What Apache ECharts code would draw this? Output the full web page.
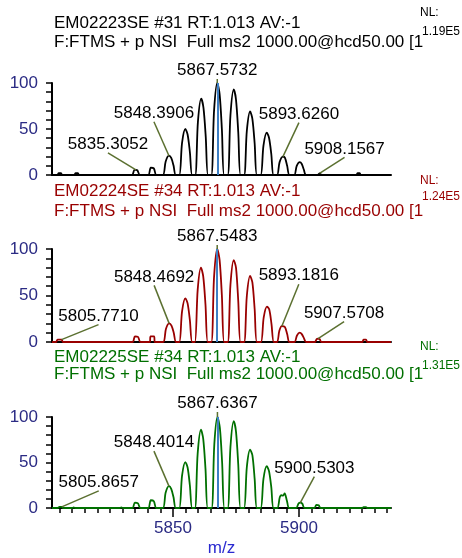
<!DOCTYPE html>
<html>
<head>
<meta charset="utf-8">
<script src="https://cdn.jsdelivr.net/npm/echarts@6/dist/echarts.min.js"></script>
<style>
html, body { margin: 0; padding: 0; background: #fff; }
#main { width: 462px; height: 558px; }
</style>
</head>
<body>
<div id="main"></div>
<script>
// scan header texts
var scanTitles = ['EM02223SE #31 RT:1.013 AV:-1', 'EM02224SE #34 RT:1.013 AV:-1', 'EM02225SE #34 RT:1.013 AV:-1'];
var filterLine = 'F:FTMS + p NSI  Full ms2 1000.00@hcd50.00 [1';
var nlValues = ['1.19E5', '1.24E5', '1.31E5'];

// axis ticks
var yTickLabels = [0, 50, 100];
var xTickLabels = [5850, 5900];
var xMinorTicks = [5805, 5810, 5815, 5820, 5825, 5830, 5835, 5840, 5845, 5850, 5855, 5860, 5865, 5870,
    5875, 5880, 5885, 5890, 5895, 5900, 5905, 5910, 5915, 5920, 5925, 5930, 5935];

// profile spectra [m/z, relative abundance]
var profile1 = [
    [5802, 0],
    [5804.2, 0], [5804.6, 2], [5805.6, 2], [5806.0, 0],
    [5810.9, 0], [5811.3, 2], [5812.3, 2], [5812.7, 0],
    [5833.7, 0], [5834.7, 5.5], [5835.3, 5.5], [5835.9, 5], [5836.9, 0],
    [5840.2, 0], [5841.2, 8], [5842.4, 7.2], [5843.4, 0],
    [5846.0, 0], [5847.1, 14.7], [5848.4, 21], [5849.3, 18.5], [5850.2, 10.5], [5851.1, 0],
    [5852.5, 0], [5853.6, 35], [5854.9, 50], [5855.8, 44], [5856.7, 25], [5857.6, 0],
    [5858.8, 0], [5859.9, 58], [5861.2, 83], [5862.1, 73], [5863.0, 41.5], [5863.9, 0],
    [5865.2, 0], [5866.3, 70], [5867.57, 100], [5868.5, 88], [5869.4, 50], [5870.3, 0],
    [5871.7, 0], [5872.8, 65], [5874.1, 93], [5875.0, 82], [5875.9, 46.5], [5876.8, 0],
    [5878.2, 0], [5879.3, 48], [5880.6, 69], [5881.5, 61], [5882.4, 34.5], [5883.3, 0],
    [5884.8, 0], [5885.9, 32], [5887.2, 46], [5888.1, 40.5], [5889.0, 23], [5889.9, 0],
    [5891.3, 0], [5892.3, 14], [5893.6, 20], [5894.4, 19], [5895.3, 10], [5896.2, 0],
    [5898.1, 0], [5899.1, 10], [5900.3, 14], [5901.1, 12], [5901.9, 6], [5902.8, 0],
    [5907.4, 0], [5908.2, 1.8], [5909.0, 0],
    [5922.8, 0], [5923.2, 2], [5924.1, 2], [5924.5, 0],
    [5936.5, 0]
];
var profile2 = [
    [5802, 0],
    [5803.6, 0], [5804.2, 2.5], [5805.8, 2.5], [5806.4, 0],
    [5833.9, 0], [5834.9, 6], [5836.1, 5.5], [5837.1, 0],
    [5840.8, 0], [5841.1, 6], [5842.5, 6], [5842.8, 0],
    [5846.1, 0], [5847.2, 14], [5848.47, 20], [5849.4, 17.6], [5850.3, 10], [5851.2, 0],
    [5852.5, 0], [5853.6, 33], [5854.9, 47], [5855.8, 41.5], [5856.7, 23.5], [5857.6, 0],
    [5858.7, 0], [5859.8, 56], [5861.1, 80], [5862.0, 70.5], [5862.9, 40], [5863.8, 0],
    [5865.2, 0], [5866.3, 70], [5867.55, 100], [5868.5, 88], [5869.4, 50], [5870.3, 0],
    [5871.7, 0], [5872.8, 61.5], [5874.1, 88], [5875.0, 80], [5875.9, 44], [5876.8, 0],
    [5878.2, 0], [5879.3, 49.5], [5880.6, 71], [5881.5, 64], [5882.4, 35.5], [5883.3, 0],
    [5884.9, 0], [5886.0, 26.5], [5887.3, 38], [5888.2, 35], [5889.1, 19], [5890.0, 0],
    [5891.3, 0], [5892.2, 12], [5893.18, 17], [5894.4, 16], [5895.3, 8.5], [5896.2, 0],
    [5898.2, 0], [5899.2, 7], [5900.3, 10], [5901.1, 8.5], [5901.9, 4.5], [5902.8, 0],
    [5906.3, 0], [5907.0, 3.2], [5907.57, 3.5], [5908.2, 3], [5908.9, 0],
    [5925.1, 0], [5925.6, 2.5], [5926.6, 2.5], [5927.1, 0],
    [5936.5, 0]
];
var profile3 = [
    [5802, 0],
    [5804.2, 0], [5805, 1.2], [5805.9, 1.2], [5806.4, 0],
    [5809.9, 0], [5810.6, 0.6], [5811.3, 0],
    [5828.8, 0], [5829.5, 0.6], [5830.2, 0],
    [5833.9, 0], [5834.9, 6], [5836.1, 5], [5837.1, 0],
    [5840.2, 0], [5841.2, 8.5], [5842.4, 7.5], [5843.4, 0],
    [5846.0, 0], [5847.1, 17], [5848.4, 24], [5849.3, 21], [5850.2, 12], [5851.1, 0],
    [5852.5, 0], [5853.6, 35.5], [5854.9, 50.5], [5855.8, 44.5], [5856.7, 25], [5857.6, 0],
    [5858.7, 0], [5859.8, 60], [5861.1, 86], [5862.0, 76], [5862.9, 43], [5863.8, 0],
    [5865.3, 0], [5866.4, 70], [5867.64, 100], [5868.6, 88], [5869.5, 50], [5870.4, 0],
    [5871.7, 0], [5872.8, 67], [5874.1, 95.5], [5875.0, 84], [5875.9, 47.5], [5876.8, 0],
    [5878.2, 0], [5879.3, 45], [5880.6, 64], [5881.5, 58], [5882.4, 32], [5883.3, 0],
    [5884.8, 0], [5885.9, 32], [5887.2, 46], [5888.1, 40.5], [5889.0, 23], [5889.9, 0],
    [5891.4, 0], [5892.4, 12], [5893.1, 14], [5893.6, 13.5], [5894.3, 16], [5895.2, 8], [5896.1, 0],
    [5898.9, 0], [5899.8, 5], [5900.53, 6], [5901.3, 4.8], [5902.2, 0],
    [5906.1, 0], [5906.9, 3.5], [5907.8, 3], [5908.6, 0],
    [5925.1, 0], [5925.6, 1], [5926.6, 1], [5927.1, 0],
    [5936.5, 0]
];

// labelled peaks
var peakMz1 = [5835.3052, 5848.3906, 5867.5732, 5893.6260, 5908.1567];
var peakInt1 = [5.5, 21, 100, 20, 1.8];
var peakMz2 = [5805.7710, 5848.4692, 5867.5483, 5893.1816, 5907.5708];
var peakInt2 = [2.5, 20, 100, 17, 3.5];
var peakMz3 = [5805.8657, 5848.4014, 5867.6367, 5900.5303];
var peakInt3 = [1.2, 24, 100, 6];

var profiles = [profile1, profile2, profile3];
var peakMz = [peakMz1, peakMz2, peakMz3];
var peakInt = [peakInt1, peakInt2, peakInt3];

// layout / style
var FONT = '"Liberation Sans", Arial, sans-serif';
var colors = ['#000000', '#990000', '#007000'];
var gridTops = [83, 249, 417];
var gridHeights = [92, 93, 91];
var titleY = [[23, 42], [191, 211], [357, 374]];
var nlY = [[13, 32], [181, 197], [347, 366]];
// pixel offset of label anchor from the peak apex
var labelOffsets = [
    [[-28, -17], [-15, -34], [0, -4], [16, -34], [25, -16]],
    [[37, -15], [-15, -38], [0, -4], [17, -42], [26, -17]],
    [[37, -16], [-15, -35], [0, -5], [14, -26]]
];

function makeLabels(offsets) {
    return function (params, api) {
        var p = api.coord([api.value(0), api.value(1)]);
        var o = offsets[params.dataIndex];
        var tx = p[0] + o[0], ty = p[1] + o[1];
        return {
            type: 'group',
            children: [
                { type: 'line', shape: { x1: p[0], y1: p[1], x2: tx, y2: ty },
                  style: { stroke: '#5b7030', lineWidth: 1.5 } },
                { type: 'text', x: tx, y: ty,
                  style: { text: api.value(0).toFixed(4), fill: '#000', font: '17px ' + FONT,
                           align: 'center', verticalAlign: 'bottom' } }
            ]
        };
    };
}

var grids = [], xAxes = [], yAxes = [], series = [], graphics = [];

for (var i = 0; i < 3; i++) {
    grids.push({ left: 52, width: 339, top: gridTops[i], height: gridHeights[i] });

    var xa = {
        type: 'value', gridIndex: i, min: 5802, max: 5936.5, position: 'bottom',
        axisLine: { show: true, onZero: false, lineStyle: { color: '#000', width: 2 } },
        axisTick: { show: false },
        axisLabel: { show: false },
        splitLine: { show: false }
    };
    if (i === 2) {
        xa.axisTick = { show: true, length: 9, customValues: xTickLabels, lineStyle: { color: '#000', width: 1.5 } };
        xa.axisLabel = {
            show: true, customValues: xTickLabels, color: '#2b2b84', fontSize: 17, fontFamily: FONT, margin: 12,
            formatter: function (v) { return String(v); }
        };
        xa.name = 'm/z';
        xa.nameLocation = 'middle';
        xa.nameGap = 32;
        xa.nameTextStyle = { color: '#2a2ad0', fontSize: 17, fontFamily: FONT };
    }
    xAxes.push(xa);

    yAxes.push({
        type: 'value', gridIndex: i, min: 0, max: 100, interval: 10,
        axisLine: { show: true, onZero: false, lineStyle: { color: '#000', width: 2 } },
        axisTick: { show: true, length: 6, lineStyle: { color: '#000', width: 1.5 } },
        axisLabel: {
            color: '#2b2b84', fontSize: 17, fontFamily: FONT, margin: 14,
            formatter: function (v) { return yTickLabels.indexOf(v) >= 0 ? String(v) : ''; }
        },
        splitLine: { show: false }
    });

    var ints = peakInt[i];
    var mainMz = peakMz[i][ints.indexOf(Math.max.apply(null, ints))];

    series.push({
        type: 'line', xAxisIndex: i, yAxisIndex: i,
        data: profiles[i],
        symbol: 'none', showSymbol: false,
        smooth: 0.3,
        lineStyle: { color: colors[i], width: 1.8 },
        markLine: {
            silent: true, symbol: ['none', 'none'], label: { show: false },
            lineStyle: { color: '#3d7fc4', width: 2, type: 'solid' },
            data: [{ xAxis: mainMz }]
        }
    });

    series.push({
        type: 'custom', xAxisIndex: i, yAxisIndex: i,
        clip: false, silent: true, z: 5,
        data: peakMz[i].map(function (m, k) { return [m, ints[k]]; }),
        encode: { x: 0, y: 1 },
        renderItem: makeLabels(labelOffsets[i])
    });

    graphics.push(
        { type: 'text', x: 54, y: titleY[i][0], style: { text: scanTitles[i], fill: colors[i], font: '17px ' + FONT, verticalAlign: 'middle' } },
        { type: 'text', x: 54, y: titleY[i][1], style: { text: filterLine, fill: colors[i], font: '17px ' + FONT, verticalAlign: 'middle' } },
        { type: 'text', x: 420, y: nlY[i][0], style: { text: 'NL:', fill: colors[i], font: '12px ' + FONT, verticalAlign: 'middle' } },
        { type: 'text', x: 422, y: nlY[i][1], style: { text: nlValues[i], fill: colors[i], font: '12px ' + FONT, verticalAlign: 'middle' } }
    );
}

// minor ticks on the bottom m/z axis
xAxes.push({
    type: 'value', gridIndex: 2, min: 5802, max: 5936.5, position: 'bottom',
    axisLine: { show: false },
    axisTick: { show: true, length: 5, customValues: xMinorTicks, lineStyle: { color: '#000', width: 1.5 } },
    axisLabel: { show: false },
    splitLine: { show: false }
});

var myChart = echarts.init(document.getElementById('main'));
myChart.setOption({
    animation: false,
    backgroundColor: '#fff',
    grid: grids,
    xAxis: xAxes,
    yAxis: yAxes,
    series: series,
    graphic: graphics
});
</script>
</body>
</html>
